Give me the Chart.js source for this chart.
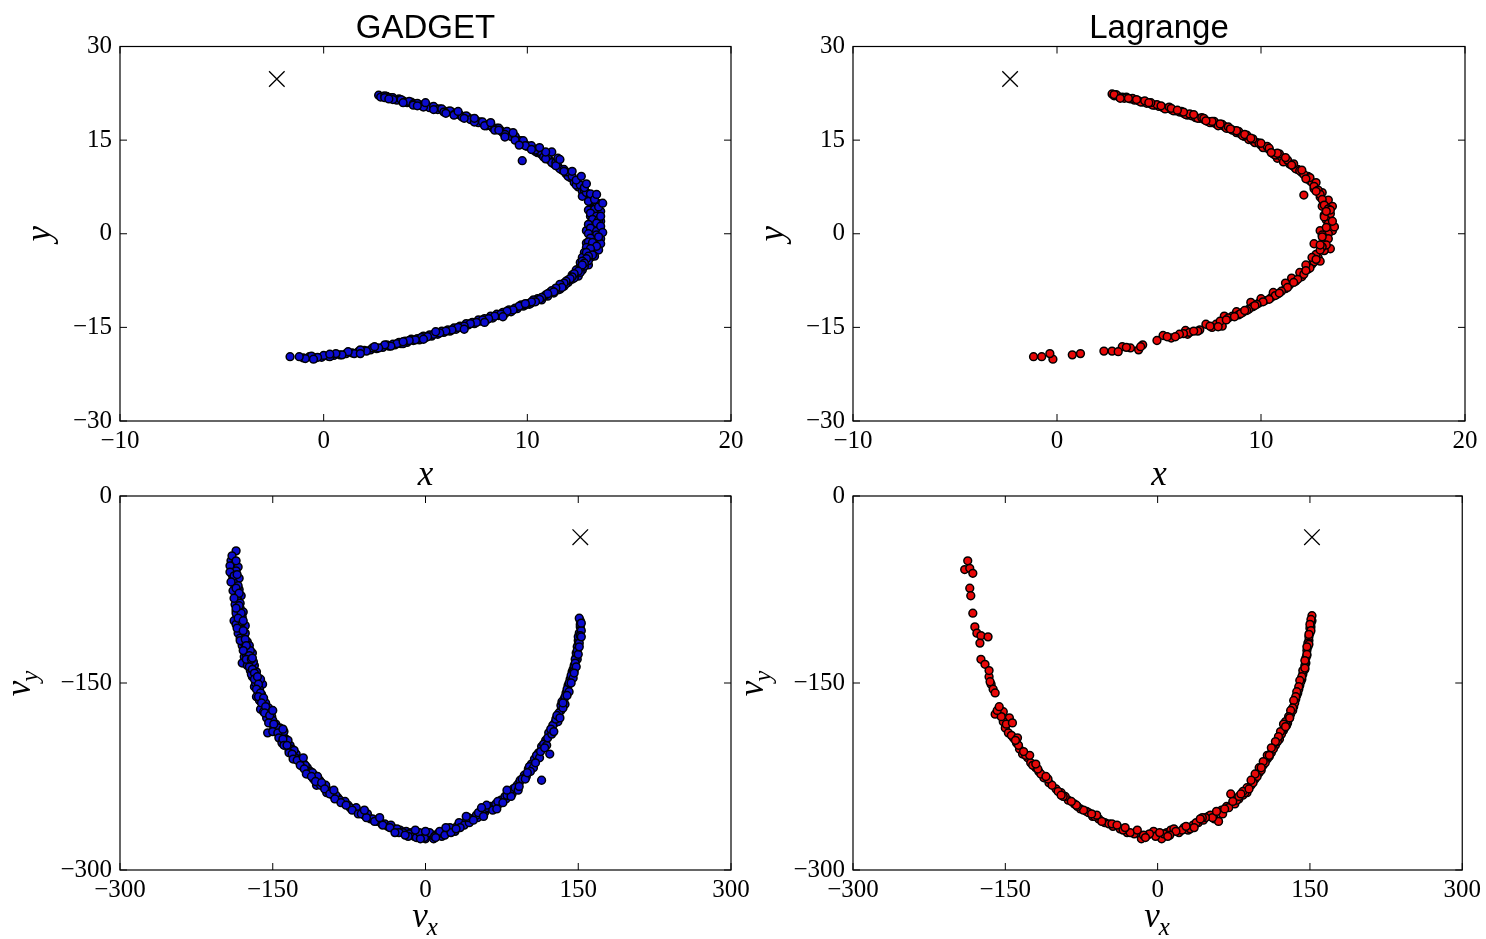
<!DOCTYPE html>
<html>
<head>
<meta charset="utf-8">
<title>GADGET vs Lagrange</title>
<script src="https://cdn.jsdelivr.net/npm/chart.js@4.4.1/dist/chart.umd.min.js"></script>
<style>
  html, body { margin: 0; padding: 0; background: #fff; }
  body { width: 1486px; height: 939px; position: relative; overflow: hidden; }
  .panel { position: absolute; }
</style>
</head>
<body>
<div class="panel" style="left:0;top:0;width:790px;height:490px"><canvas id="gadgetPosChart"></canvas></div>
<div class="panel" style="left:733px;top:0;width:753px;height:490px"><canvas id="lagrangePosChart"></canvas></div>
<div class="panel" style="left:0;top:440px;width:790px;height:499px"><canvas id="gadgetVelChart"></canvas></div>
<div class="panel" style="left:733px;top:440px;width:753px;height:499px"><canvas id="lagrangeVelChart"></canvas></div>
<script>
'use strict';

// ─── Data ─────────────────────────────────────────────────────────────────────

const posXTicks = [-10, 0, 10, 20];
const posYTicks = [-30, -15, 0, 15, 30];
const velXTicks = [-300, -150, 0, 150, 300];
const velYTicks = [-300, -150, 0];

// reference marker (×)
const crossPos = [[-2.3, 24.8]];
const crossVel = [[152, -33]];

// GADGET positions (x, y)
const gadgetPos = [
  [2.7,22.2],[2.9,22.0],[3.1,22.0],[3.3,21.8],[3.5,21.5],[3.7,21.6],[3.9,21.3],[4.1,21.0],[4.3,21.1],[4.5,20.8],
  [4.7,20.6],[4.9,20.7],[5.1,20.4],[5.3,20.3],[5.5,20.1],[5.7,20.0],[5.9,19.7],[6.1,19.6],[6.3,19.5],[6.5,19.2],
  [6.7,19.0],[6.9,18.7],[7.1,18.6],[7.3,18.3],[7.5,18.1],[7.7,17.9],[7.9,17.5],[8.1,17.4],[8.3,17.0],[8.5,16.9],
  [8.7,16.5],[8.9,16.1],[9.1,15.9],[9.3,15.5],[9.5,15.1],[9.7,14.9],[9.9,14.3],[10.1,14.0],[10.3,13.6],[10.5,13.0],
  [10.7,12.7],[10.9,12.3],[11.1,11.8],[11.3,11.2],[11.5,10.8],[11.7,10.2],[11.9,9.6],[12.1,9.0],[12.3,8.2],[12.5,7.5],
  [2.8,21.9],[3.0,22.1],[3.2,21.8],[3.4,21.8],[3.6,21.4],[3.8,21.5],[4.0,21.1],[4.2,21.2],[4.4,20.8],[4.6,20.9],
  [4.8,20.5],[5.0,20.7],[5.2,20.2],[5.4,20.4],[5.6,19.9],[5.8,20.0],[6.0,19.5],[6.2,19.7],[6.4,19.1],[6.6,19.3],
  [6.8,18.7],[7.0,18.9],[7.2,18.3],[7.4,18.4],[7.6,17.8],[7.8,17.9],[8.0,17.3],[8.2,17.4],[8.4,16.8],[8.6,16.9],
  [8.8,16.2],[9.0,16.4],[9.2,15.6],[9.4,15.6],[9.6,14.8],[9.8,14.9],[10.0,14.0],[10.2,14.1],[10.4,13.2],[10.6,13.2],
  [10.8,12.3],[11.0,12.4],[11.2,11.4],[11.4,11.4],[11.6,10.4],[11.8,10.3],[12.0,9.2],[12.2,9.2],[12.4,7.8],[12.6,7.8],
  [3.0,21.8],[3.4,21.5],[3.9,21.0],[4.4,20.6],[4.9,20.3],[5.4,19.9],[5.9,19.5],[6.4,19.0],[6.9,18.5],[7.4,17.9],
  [7.9,17.3],[8.4,16.6],[8.9,15.9],[9.4,15.0],[9.9,14.1],[10.4,13.4],[10.9,12.0],[11.4,10.9],[11.9,9.9],[12.4,8.6],
  [9.75,11.7],[11.2,13.1],[12.65,9.2],[10.9,13.1],[11.5,12.1],[8.9,15.5],[9.6,14.2],[3.2,21.6],[4.6,20.5],[6.0,19.3],
  [7.4,18.5],[8.6,16.6],[10.2,13.5],[11.8,10.0],
  [12.7,6.8],[12.9,6.2],[13.0,5.6],[13.1,5.0],[13.3,4.6],[13.4,4.3],[13.2,4.0],[13.0,3.8],[13.3,3.4],[13.5,3.0],
  [13.1,2.8],[13.4,2.4],[13.6,2.0],[13.2,1.8],[13.5,1.4],[13.3,1.0],[13.6,0.6],[13.2,0.3],[13.5,0.0],[13.3,-0.4],
  [13.6,-0.8],[13.2,-1.0],[13.4,-1.5],[13.1,-1.8],[13.3,-2.3],[13.0,-2.6],[13.2,-3.0],[12.9,-3.4],[13.1,-3.8],[12.8,-4.2],
  [12.9,-4.8],[12.6,-5.2],[12.7,-5.8],[12.4,-6.3],[12.5,-6.8],[12.2,-7.3],[12.0,-7.8],[11.8,-8.4],[11.6,-8.9],[11.3,-9.5],
  [11.0,-10.0],[10.7,-10.6],[12.7,6.0],[13.5,4.8],[13.6,3.6],[12.9,0.5],[12.9,-1.5],[13.0,-5.0],[12.3,-7.0],[11.5,-9.0],
  [12.8,7.0],[12.9,6.6],[13.1,6.0],[13.2,5.5],[13.0,5.2],[13.4,5.0],[13.3,3.9],[13.1,3.3],[13.4,2.8],[13.2,2.3],
  [13.5,2.2],[13.0,1.5],[13.4,1.7],[13.1,0.9],[13.4,0.4],[13.0,0.0],[13.4,-0.2],[13.1,-0.7],[13.5,-1.2],[13.0,-1.3],
  [13.3,-1.9],[12.9,-2.2],[13.2,-2.6],[12.8,-3.0],[13.0,-3.2],[12.7,-3.8],[13.0,-4.3],[12.6,-4.6],[12.8,-5.2],[12.5,-5.7],
  [12.6,-6.2],[12.2,-6.6],[12.3,-7.1],[12.0,-7.4],[11.9,-8.0],[11.6,-8.4],[11.4,-9.0],[11.1,-9.4],[10.8,-10.1],[10.5,-10.4],
  [12.8,7.4],[13.1,6.4],[13.3,5.5],[13.5,4.3],[13.6,2.8],[13.6,1.2],[13.7,0.2],[13.6,-1.6],[13.5,-2.6],[13.3,-3.6],
  [13.5,-0.5],[13.2,-1.4],[13.4,-2.0],[13.1,-2.4],[13.2,-3.4],[12.9,-3.0],[13.0,-3.6],[12.9,-4.0],[12.7,-4.4],[12.8,-4.7],
  [12.6,-5.4],[12.7,-5.0],[12.4,-5.8],[12.5,-6.0],[12.3,-6.4],[12.2,-6.9],[12.1,-7.2],[11.9,-7.6],[11.8,-7.9],[11.6,-8.1],
  [11.7,-8.6],[11.4,-8.7],[11.2,-9.1],[11.3,-9.3],[10.9,-9.8],[11.0,-9.6],[10.7,-10.2],[10.6,-10.5],[10.3,-10.6],[10.2,-11.1],
  [10.4,-10.9],[10.1,-11.3],[9.8,-11.6],[9.5,-12.0],[9.2,-12.5],[8.9,-12.8],[8.6,-13.1],[8.3,-13.5],[8.0,-13.8],[7.7,-14.0],
  [7.4,-14.4],[7.1,-14.6],[6.8,-15.0],[6.5,-15.3],[6.2,-15.6],[5.9,-15.8],[5.6,-16.1],[5.3,-16.4],[5.0,-16.6],[4.7,-17.0],
  [10.0,-11.2],[9.7,-11.4],[9.4,-11.9],[9.1,-12.2],[8.8,-12.6],[8.5,-12.9],[8.2,-13.2],[7.9,-13.6],[7.6,-13.8],[7.3,-14.2],
  [7.0,-14.4],[6.7,-14.8],[6.4,-15.1],[6.1,-15.4],[5.8,-15.6],[5.5,-15.9],[5.2,-16.2],[4.9,-16.4],[4.6,-16.8],[4.3,-16.9],
  [4.4,-17.1],[4.1,-17.4],[3.8,-17.6],[3.5,-17.8],[3.2,-18.0],[2.9,-18.2],[2.6,-18.4],[2.3,-18.6],[2.0,-18.7],[1.7,-18.9],
  [1.4,-19.1],[1.1,-19.2],[0.8,-19.4],[0.5,-19.5],[0.2,-19.6],[-0.1,-19.8],[-0.4,-19.9],[-0.7,-19.7],[-1.0,-19.9],[-1.65,-19.7],
  [10.2,-10.9],[9.9,-11.4],[9.6,-11.6],[9.3,-12.2],[9.0,-12.4],[8.7,-12.9],[8.4,-13.2],[8.1,-13.6],[7.8,-13.8],[7.5,-14.2],
  [7.2,-14.4],[6.9,-14.8],[6.6,-15.0],[6.3,-15.4],[6.0,-15.6],[5.7,-15.9],[5.4,-16.1],[5.1,-16.5],[4.8,-16.6],[4.5,-17.0],
  [4.0,-17.2],[3.7,-17.4],[3.4,-17.7],[3.1,-17.8],
  [4.2,-17.1],[3.9,-17.6],[3.6,-17.6],[3.3,-18.0],[3.0,-17.8],[2.7,-18.3],[2.4,-18.3],[2.1,-18.8],[1.8,-18.6],[1.5,-19.2],
  [1.2,-18.9],[0.9,-19.4],[0.6,-19.2],[0.3,-19.7],[0.0,-19.5],[-0.3,-19.8],[-0.6,-19.6],[-0.9,-20.0],[-1.2,-19.7],[-0.5,-20.1],
  [5.5,-15.7],[3.9,-17.3],[2.5,-18.1],[6.9,-15.3],[8.8,-13.3],[0.3,-19.3],[1.8,-19.2],[9.9,-11.2],[7.9,-14.2],[4.9,-16.9],
  [5.0,21.0],[6.6,19.6],[8.2,17.8],[9.3,16.2],[10.6,13.8],[11.6,11.9],[12.2,10.0],[12.9,8.0],[13.4,6.3],[13.7,4.9]
];

// Lagrange positions (x, y)
const lagrangePos = [
  [2.7,22.4],[2.8,22.1],[3.0,22.0],[3.2,21.9],[3.4,21.9],[3.6,21.6],[3.8,21.4],[4.0,21.3],[4.2,21.1],[4.4,20.9],
  [4.6,20.8],[4.8,20.6],[5.0,20.4],[5.2,20.2],[5.4,20.1],[5.6,19.9],[5.8,19.7],[6.0,19.5],[6.2,19.3],[6.4,19.0],
  [6.6,18.9],[6.8,18.6],[7.0,18.5],[7.2,18.3],[7.4,18.0],[7.6,17.8],[7.8,17.6],[8.0,17.4],[8.2,17.2],[8.4,16.9],
  [8.6,16.6],[8.8,16.2],[9.0,16.0],[9.2,15.6],[9.4,15.1],[9.6,14.9],[9.8,14.6],[10.0,14.2],[10.2,13.8],[10.4,13.5],
  [10.6,12.8],[10.8,12.1],[11.0,12.3],[11.2,11.9],[11.4,11.2],[11.6,10.8],[11.8,10.3],[12.0,9.8],[12.3,9.2],[12.4,8.5],
  [2.9,22.3],[3.3,21.7],[3.7,21.7],[4.1,21.1],[4.3,21.3],[4.7,20.6],[4.9,20.7],[5.3,20.0],[5.5,20.3],[5.7,19.7],
  [6.1,19.6],[6.3,19.1],[6.5,19.2],[6.9,18.5],[7.1,18.6],[7.5,17.8],[7.7,18.0],[7.9,17.3],[8.1,17.5],[8.3,16.9],
  [8.7,16.5],[8.9,16.4],[9.1,15.7],[9.3,15.8],[9.7,14.6],[9.9,14.5],[10.1,13.8],[10.3,14.0],[10.7,12.6],[10.9,12.8],
  [11.1,11.5],[11.3,11.8],[11.7,10.4],[11.9,10.1],[12.1,9.5],[12.5,8.2],[12.6,7.2],[12.9,5.9],[13.2,5.0],[13.0,4.4],
  [2.8,22.3],[3.5,21.7],[3.9,21.5],[4.6,21.0],[5.1,20.5],[5.6,20.1],[6.2,19.5],[6.7,19.1],[7.2,18.5],[7.6,18.0],
  [8.0,17.6],[8.4,17.1],[8.8,16.5],[9.2,15.9],[9.6,15.2],[10.0,14.5],[10.4,13.7],[10.8,12.9],[11.2,12.2],[11.6,11.2],
  [12.0,10.2],[12.4,9.0],[12.7,8.2],[13.0,6.6],[13.3,5.4],[13.5,4.4],[13.1,3.0],[13.5,0.5],
  [12.6,7.6],[12.8,7.0],[12.1,6.2],[12.9,6.3],[13.0,5.5],[13.1,4.6],[13.3,4.0],[13.4,3.2],[13.2,2.2],[13.3,1.6],
  [12.9,0.5],[13.6,1.1],[13.3,0.0],[13.1,-1.1],[12.6,-1.6],[13.4,-2.4],[13.1,-2.7],[12.8,-3.8],[12.5,-4.9],[12.3,-5.7],
  [13.4,3.8],[13.1,2.7],[13.5,2.0],[13.2,1.0],[13.0,-0.2],[13.3,-0.8],[13.2,-1.8],[13.0,-2.1],[12.7,-3.3],[12.9,-4.4],
  [12.6,-4.5],[12.4,-5.5],[12.0,-6.9],[11.7,-7.6],[11.4,-8.2],[11.2,-8.8],[10.8,-9.7],[10.5,-10.2],[10.2,-10.7],[9.9,-11.1],
  [12.9,-2.6],[12.5,-3.8],[12.7,-4.1],[12.2,-5.0],[11.9,-6.2],[11.5,-7.1],[11.2,-7.9],[10.6,-9.4],[10.0,-10.4],[9.5,-11.0],
  [8.8,-12.5],[8.2,-13.2],[7.3,-14.5],[6.3,-15.5],[5.2,-16.3],
  [12.1,-6.5],[11.8,-7.3],[11.6,-7.8],[11.3,-8.6],[11.0,-9.2],[10.7,-9.9],[10.4,-10.5],[10.1,-10.9],[9.8,-11.3],[9.6,-11.7],
  [9.4,-12.1],[9.1,-12.6],[8.9,-13.0],[8.6,-13.2],[8.4,-13.5],[8.1,-14.8],[7.8,-14.5],[7.6,-15.0],[7.0,-15.4],[6.4,-16.1],
  [9.7,-11.5],[9.3,-12.3],[9.0,-12.8],[8.7,-13.3],[8.0,-14.0],[7.9,-14.9],[6.9,-15.6],[6.5,-15.8],[6.2,-16.0],[5.6,-16.7],
  [6.0,-16.1],[5.8,-16.5],[5.4,-16.5],[4.9,-17.1],[4.2,-17.8],[4.0,-18.6],[3.6,-18.3],[3.2,-18.1],[2.7,-18.8],[2.3,-18.8],
  [1.15,-19.2],[0.75,-19.4],[-0.2,-20.1],[-0.35,-19.2],[-0.75,-19.7],[-1.15,-19.7],[4.1,-18.1],[3.0,-18.9],
  [3.1,21.7],[4.5,21.0],[5.9,19.8],[7.3,18.1],[8.5,16.8],[9.5,15.3],[10.5,13.0],[11.5,11.0],[12.2,8.8],[12.7,6.8],
  [13.2,3.6],[13.0,-0.5],[12.9,-1.8],[12.2,-5.9],[10.9,-9.5],[9.2,-12.3],[8.3,-13.8],[7.5,-14.8],[6.7,-15.6],[3.4,-18.2]
];

// GADGET velocities (vx, vy)
const gadgetVel = [
  [-186,-44],[-191,-52],[-188,-55],[-190,-58],[-184,-57],[-187,-62],[-189,-66],[-185,-68],[-187,-72],[-183,-75],
  [-186,-78],[-181,-80],[-184,-84],[-187,-87],[-182,-90],[-179,-93],[-185,-96],[-188,-100],[-183,-101],[-177,-104],
  [-181,-107],[-184,-110],[-178,-113],[-175,-117],[-180,-120],[-176,-123],[-170,-126],[-178,-129],[-174,-132],[-180,-134],
  [-168,-136],[-172,-140],[-170,-145],[-166,-148],[-160,-151],[-168,-153],[-164,-157],[-166,-161],[-160,-164],[-158,-168],
  [-162,-171],[-155,-174],[-151,-177],[-153,-181],[-147,-183],[-143,-186],[-155,-190],[-146,-189],[-140,-192],[-137,-195],
  [-190,-48],[-186,-52],[-192,-56],[-186,-60],[-190,-63],[-183,-66],[-188,-70],[-184,-72],[-189,-76],[-185,-81],
  [-182,-86],[-186,-92],[-180,-97],[-186,-103],[-180,-101],[-182,-114],[-177,-110],[-178,-118],[-173,-120],[-176,-127],
  [-172,-124],[-175,-136],[-169,-133],[-171,-143],[-166,-141],[-167,-150],[-162,-147],[-163,-155],[-161,-159],[-163,-164],
  [-157,-166],[-159,-173],[-154,-170],[-156,-178],[-150,-180],[-149,-186],[-145,-186],[-143,-191],[-139,-189],[-138,-197],
  [-192,-61],[-188,-64],[-185,-63],[-191,-69],[-186,-74],[-183,-78],[-188,-82],[-183,-88],[-186,-94],[-181,-94],
  [-184,-98],[-179,-100],[-185,-106],[-179,-108],[-182,-116],[-177,-115],[-176,-120],[-179,-124],[-173,-128],[-176,-131],
  [-171,-131],[-173,-137],[-170,-139],[-168,-142],[-168,-147],[-165,-145],[-164,-151],[-166,-155],[-162,-158],[-164,-161],
  [-159,-162],[-161,-166],[-157,-169],[-158,-174],[-153,-176],[-154,-182],[-149,-183],[-150,-189],[-145,-190],[-144,-194],
  [-141,-198],[-133,-200],[-131,-203],[-127,-207],[-124,-211],[-120,-214],[-116,-218],[-113,-221],[-109,-224],[-104,-228],
  [-135,-196],[-134,-204],[-129,-204],[-128,-210],[-122,-212],[-121,-217],[-118,-216],[-115,-222],[-111,-222],[-110,-227],
  [-140,-195],[-139,-200],[-136,-200],[-134,-206],[-131,-207],[-130,-211],[-126,-212],[-123,-216],[-119,-219],[-117,-223],
  [-107,-232],[-100,-233],[-96,-236],[-91,-240],[-86,-242],[-81,-246],[-76,-248],[-71,-251],[-65,-254],[-60,-256],
  [-106,-225],[-103,-232],[-98,-232],[-97,-238],[-93,-237],[-88,-240],[-84,-244],[-79,-245],[-74,-250],[-68,-250],
  [-112,-225],[-108,-229],[-102,-230],[-99,-235],[-94,-239],[-89,-243],[-83,-246],[-78,-248],[-72,-252],[-66,-255],
  [-54,-259],[-48,-261],[-43,-263],[-37,-265],[-31,-267],[-25,-268],[-19,-269],[-14,-270],[-8,-272],[-3,-273],
  [-63,-255],[-57,-255],[-52,-259],[-46,-259],[-40,-263],[-34,-264],[-28,-267],[-22,-270],[-16,-271],[-11,-273],
  [-58,-258],[-50,-261],[-42,-264],[-35,-266],[-26,-270],[-17,-273],[-9,-274],[0,-275],[8,-275],[16,-273],
  [2,-272],[7,-272],[12,-271],[17,-270],[22,-269],[27,-267],[31,-265],[35,-263],[40,-261],[45,-259],
  [-6,-270],[-1,-274],[4,-270],[9,-273],[14,-269],[19,-272],[24,-266],[29,-269],[33,-262],[38,-264],
  [25,-270],[34,-266],[43,-262],[51,-258],[58,-254],[65,-250],[72,-247],[79,-243],[85,-239],[92,-230],
  [50,-256],[55,-254],[59,-251],[64,-249],[69,-247],[74,-244],[78,-241],[82,-239],[86,-235],[90,-232],
  [42,-258],[47,-260],[52,-254],[57,-257],[61,-250],[66,-252],[71,-245],[76,-246],[80,-240],[84,-241],
  [93,-228],[97,-224],[101,-219],[104,-215],[107,-211],[111,-206],[114,-201],[114,-228],[118,-196],[121,-190],
  [88,-234],[91,-236],[95,-227],[99,-225],[102,-217],[106,-218],[109,-208],[112,-210],[116,-199],[119,-200],
  [98,-227],[103,-221],[108,-214],[113,-205],[117,-202],[120,-194],[124,-191],[127,-182],[130,-181],[133,-172],
  [122,-207],[125,-184],[128,-179],[131,-174],[133,-168],[136,-163],[138,-158],[140,-152],[142,-147],[144,-141],
  [123,-187],[126,-189],[129,-176],[132,-178],[134,-165],[137,-167],[139,-155],[141,-157],[143,-144],[145,-146],
  [135,-170],[137,-161],[139,-160],[141,-150],[143,-150],[145,-139],[146,-140],[148,-129],[149,-131],[150,-119],
  [146,-136],[147,-131],[148,-126],[149,-121],[150,-116],[151,-110],[152,-105],[152,-100],[151,-98],
  [147,-134],[148,-137],[149,-124],[150,-127],[150,-113],[151,-118],[152,-103],[153,-108],
  [151,-121],[152,-112],[153,-113],[153,-102],
  [-60,-252],[-30,-270],[0,-269],[20,-266],[40,-257],[60,-248],[-90,-236],[-120,-210],[-140,-187],[-150,-172],
  [-170,-130],[-186,-90],[80,-236],[100,-222],[135,-166],[146,-142],[30,-267],[-10,-268],[-45,-258],[70,-251],
  [55,-250],[92,-233],[-5,-275],[10,-274],[-20,-272]
];

// Lagrange velocities (vx, vy)
const lagrangeVel = [
  [-187,-52],[-190,-59],[-185,-58],[-182,-62],[-185,-74],[-184,-80],[-182,-94],[-180,-105],[-178,-110],[-174,-112],
  [-167,-113],[-175,-118],[-174,-131],[-170,-135],[-166,-145],[-164,-151],[-162,-155],[-160,-158],[-165,-149],[-160,-175],
  [-156,-172],[-152,-173],[-146,-178],[-152,-181],[-150,-186],[-147,-190],[-142,-194],[-139,-198],[-136,-203],[-133,-207],
  [-128,-210],[-125,-214],[-120,-218],[-117,-221],[-112,-226],[-107,-230],[-100,-235],[-95,-238],[-88,-244],[-82,-247],
  [-76,-251],[-70,-253],[-64,-257],[-58,-259],[-52,-262],[-44,-265],[-37,-267],[-30,-270],[-23,-271],[-16,-275],
  [-10,-272],[-4,-269],[0,-272],[4,-275],[9,-270],[13,-268],[16,-267],[21,-270],[26,-266],[30,-268],
  [35,-264],[40,-262],[45,-260],[50,-257],[52,-256],[56,-259],[60,-261],[63,-252],[68,-249],[72,-239],
  [76,-247],[80,-243],[84,-240],[88,-238],[92,-232],[96,-227],[100,-222],[104,-216],[108,-211],[112,-206],
  [116,-200],[120,-195],[124,-188],[128,-182],[131,-175],[134,-169],[136,-163],[138,-158],[140,-152],[142,-147],
  [144,-140],[146,-134],[147,-128],[148,-121],[149,-116],[150,-110],[151,-105],[152,-100],[152,-96],
  [150,-106],[151,-102],[149,-113],[148,-118],[147,-124],[146,-130],[145,-136],[143,-143],[141,-149],[139,-155],
  [137,-160],[135,-166],[133,-172],[130,-178],[127,-184],[125,-186],[122,-191],[118,-197],[114,-203],[110,-209],
  [106,-214],[102,-220],[98,-225],[94,-230],[86,-238],[78,-244],[70,-250],[64,-255],[54,-258],[47,-258],
  [151,-99],[150,-103],[151,-108],[149,-111],[149,-119],[147,-121],[147,-127],[145,-132],[145,-139],[143,-140],
  [142,-145],[140,-148],[139,-153],[137,-157],[136,-161],[134,-164],[133,-170],[131,-172],[129,-177],[126,-181],
  [124,-183],[121,-189],[119,-193],[116,-197],[112,-202],[108,-208],[104,-213],[100,-218],[96,-223],[92,-228],
  [88,-234],[84,-237],[80,-241],[74,-245],[66,-251],
  [38,-262],[32,-267],[24,-268],[18,-269],[6,-271],[-2,-273],[-8,-271],[-14,-272],[-27,-270],[-34,-268],
  [-48,-263],[-55,-261],[-68,-254],[-73,-252],[-79,-249],[-91,-241],[-98,-237],[-104,-232],[-115,-223],[-123,-216],
  [-130,-208],[-137,-200],[-144,-192],[-149,-183],[-154,-177],[-158,-172],
  [-166,-140],[-156,-169],[-143,-182],[-138,-194],[-126,-208],[-118,-219],[-108,-227],[-93,-241],[-80,-248],[-62,-257],
  [-45,-263],[-32,-266],[-12,-274],[2,-270],[12,-272],[28,-265],[36,-266],[44,-258],
  [-120,-215],[-95,-240],[-60,-256],[-20,-268],[10,-273],[42,-259],[58,-253],[90,-235],[110,-208],[126,-185],
  [145,-138],[130,-178],[102,-218],[82,-239],[-132,-205],[-140,-196],[-110,-225],[-85,-245],[-65,-255],[-40,-264]
];

// ─── Style ────────────────────────────────────────────────────────────────────

const TICK_FONT = { family: "'Liberation Serif', 'Times New Roman', serif", size: 25 };
const LABEL_FONT = "italic 35px 'Liberation Serif', serif";
const SUB_FONT = "italic 25px 'Liberation Serif', serif";
const TITLE_FONT = "33px 'Liberation Sans', Arial, sans-serif";
const BLUE = '#0c0cd0';
const RED = '#e80808';

const fmtTick = v => String(v).replace('-', '\u2212');

// draws an italic label with an optional subscript, centred on (x, y) baseline
function drawMathLabel(ctx, main, sub, x, y, rotate) {
  ctx.save();
  ctx.translate(x, y);
  if (rotate) ctx.rotate(-Math.PI / 2);
  ctx.fillStyle = '#000';
  ctx.textAlign = 'left';
  ctx.textBaseline = 'alphabetic';
  ctx.font = LABEL_FONT;
  const w1 = ctx.measureText(main).width;
  let w2 = 0;
  if (sub) { ctx.font = SUB_FONT; w2 = ctx.measureText(sub).width; }
  const x0 = -(w1 + w2) / 2;
  ctx.font = LABEL_FONT;
  ctx.fillText(main, x0, 0);
  if (sub) { ctx.font = SUB_FONT; ctx.fillText(sub, x0 + w1 - 1, 8); }
  ctx.restore();
}

// frame, inward ticks on all four sides, title and axis labels
const panelDecor = {
  id: 'panelDecor',
  afterDraw(chart, args, opts) {
    const { ctx, chartArea: a } = chart;
    const sx = chart.scales.x, sy = chart.scales.y;
    ctx.save();
    ctx.strokeStyle = '#000';
    ctx.lineWidth = 1.2;
    ctx.strokeRect(a.left, a.top, a.right - a.left, a.bottom - a.top);
    ctx.beginPath();
    sx.ticks.forEach(t => {
      const p = sx.getPixelForValue(t.value);
      ctx.moveTo(p, a.bottom); ctx.lineTo(p, a.bottom - 7);
      ctx.moveTo(p, a.top); ctx.lineTo(p, a.top + 7);
    });
    sy.ticks.forEach(t => {
      const p = sy.getPixelForValue(t.value);
      ctx.moveTo(a.left, p); ctx.lineTo(a.left + 7, p);
      ctx.moveTo(a.right, p); ctx.lineTo(a.right - 7, p);
    });
    ctx.lineWidth = 1;
    ctx.stroke();
    if (opts.title) {
      ctx.fillStyle = '#000';
      ctx.font = TITLE_FONT;
      ctx.textAlign = 'center';
      ctx.textBaseline = 'alphabetic';
      ctx.fillText(opts.title, (a.left + a.right) / 2, a.top - 8.5);
    }
    ctx.restore();
    const midY = sy.getPixelForValue(opts.yLabelAt);
    drawMathLabel(ctx, opts.xLabel[0], opts.xLabel[1], (a.left + a.right) / 2, a.bottom + opts.xLabelOffset, false);
    drawMathLabel(ctx, opts.yLabel[0], opts.yLabel[1], a.left - opts.yLabelOffset, midY, true);
  },
};

// ─── Panel factory ────────────────────────────────────────────────────────────

function createPanel(canvasId, box, points, color, cross, xTicks, yTicks, decor) {
  const ctx = document.getElementById(canvasId)?.getContext('2d');
  if (!ctx) return null;
  return new Chart(ctx, {
    type: 'scatter',
    data: { datasets: [
      {
        data: points.map(([x, y]) => ({ x, y })),
        pointRadius: 3.9,
        pointBackgroundColor: color,
        pointBorderColor: '#000',
        pointBorderWidth: 1.5,
      },
      {
        data: cross.map(([x, y]) => ({ x, y })),
        pointStyle: 'crossRot',
        pointRadius: 11,
        pointBorderColor: '#000',
        pointBorderWidth: 1.3,
      },
    ]},
    options: {
      responsive: true, maintainAspectRatio: false,
      animation: false,
      events: [],
      layout: { padding: { left: 0, top: box.padTop, right: box.padRight, bottom: 0 } },
      plugins: { legend: { display: false }, tooltip: { enabled: false }, panelDecor: decor },
      scales: {
        x: {
          type: 'linear',
          min: xTicks[0], max: xTicks[xTicks.length - 1],
          afterBuildTicks: s => { s.ticks = xTicks.map(v => ({ value: v })); },
          afterFit: s => { s.height = box.xAxisH; },
          grid: { display: false, drawTicks: false },
          border: { display: false },
          ticks: { font: TICK_FONT, color: '#000', padding: 5, maxRotation: 0, autoSkip: false, callback: fmtTick },
        },
        y: {
          type: 'linear',
          min: yTicks[0], max: yTicks[yTicks.length - 1],
          afterBuildTicks: s => { s.ticks = yTicks.map(v => ({ value: v })); },
          afterFit: s => { s.width = box.yAxisW; },
          grid: { display: false, drawTicks: false },
          border: { display: false },
          ticks: { font: TICK_FONT, color: '#000', padding: 8, autoSkip: false, callback: fmtTick },
        },
      },
    },
    plugins: [panelDecor],
  });
}

const topLeftBox = { yAxisW: 120, xAxisH: 69, padTop: 46.5, padRight: 59 };
const topRightBox = { yAxisW: 120, xAxisH: 69, padTop: 46.5, padRight: 21 };
const bottomLeftBox = { yAxisW: 120, xAxisH: 69, padTop: 56, padRight: 59 };
const bottomRightBox = { yAxisW: 120, xAxisH: 69, padTop: 56, padRight: 21 };

createPanel('gadgetPosChart', topLeftBox, gadgetPos, BLUE, crossPos, posXTicks, posYTicks,
  { title: 'GADGET', xLabel: ['x', ''], yLabel: ['y', ''], yLabelAt: 0, xLabelOffset: 64, yLabelOffset: 70 });
createPanel('lagrangePosChart', topRightBox, lagrangePos, RED, crossPos, posXTicks, posYTicks,
  { title: 'Lagrange', xLabel: ['x', ''], yLabel: ['y', ''], yLabelAt: 0, xLabelOffset: 64, yLabelOffset: 70 });
createPanel('gadgetVelChart', bottomLeftBox, gadgetVel, BLUE, crossVel, velXTicks, velYTicks,
  { title: '', xLabel: ['v', 'x'], yLabel: ['v', 'y'], yLabelAt: -150, xLabelOffset: 57, yLabelOffset: 90 });
createPanel('lagrangeVelChart', bottomRightBox, lagrangeVel, RED, crossVel, velXTicks, velYTicks,
  { title: '', xLabel: ['v', 'x'], yLabel: ['v', 'y'], yLabelAt: -150, xLabelOffset: 57, yLabelOffset: 90 });
</script>
</body>
</html>
